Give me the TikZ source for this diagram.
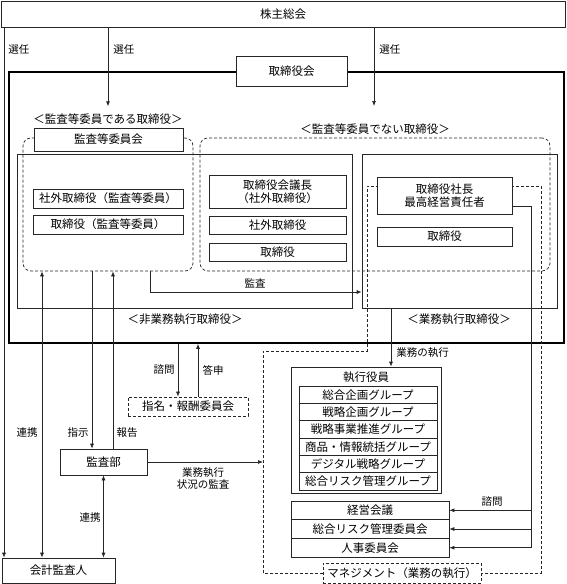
\documentclass[tikz,border=0pt]{standalone}
\usepackage{fontspec}
\setmainfont{Noto Sans CJK JP}
\usetikzlibrary{arrows.meta}

\begin{document}
\begin{tikzpicture}[x=1pt,y=-1pt,color=black!85,line width=0.7pt,
  >={Latex[length=5pt,width=4pt]},
  box/.style={draw,fill=white,text=black,inner sep=0pt,font=\fontsize{11.5}{13}\selectfont},
  dbox/.style={box,dash pattern=on 3pt off 2pt},
  lbl/.style={text=black,inner sep=1pt,font=\fontsize{10.5}{12.5}\selectfont}]
\useasboundingbox (0,0) rectangle (566,584);

\node[box,minimum width=564pt,minimum height=26pt] (v1) at (283,14) {株主総会};
\node[draw=black,line width=1.6pt,inner sep=0pt,minimum width=555pt,minimum height=271pt] (v5) at (286.5,207.5) {};
\node[box,minimum width=111pt,minimum height=30pt] (v6) at (291.5,71) {取締役会};
\node[box,fill=none,minimum width=335pt,minimum height=154pt] (v7) at (184.5,231) {};
\node[box,fill=none,minimum width=195pt,minimum height=154pt] (v8) at (459.5,231) {};
\node[dbox,fill=none,rounded corners=8pt,minimum width=170pt,minimum height=133pt] (v11) at (108,204.5) {};
\node[dbox,fill=none,rounded corners=8pt,minimum width=350pt,minimum height=133pt] (v12) at (375,204.5) {};
\draw[dash pattern=on 3pt off 2pt] (263,573) -- (263,351) -- (367,351) -- (367,186) -- (541,186) -- (541,573) -- cycle;

\node[lbl,font=\fontsize{11.5}{13}\selectfont] (v3) at (108,119) {＜監査等委員である取締役＞};
\node[lbl,font=\fontsize{11.5}{13}\selectfont] (v4) at (375,129) {＜監査等委員でない取締役＞};
\node[lbl,font=\fontsize{11.5}{13}\selectfont] (v9) at (185,319) {＜非業務執行取締役＞};
\node[lbl,font=\fontsize{11.5}{13}\selectfont] (v10) at (459,319) {＜業務執行取締役＞};

\node[box,minimum width=149pt,minimum height=23pt] (v13) at (108.5,139.5) {監査等委員会};
\node[box,minimum width=150pt,minimum height=19pt] (v14) at (108,198.5) {社外取締役（監査等委員）};
\node[box,minimum width=150pt,minimum height=19pt] (v15) at (108,224.5) {取締役（監査等委員）};
\node[box,align=center,minimum width=137pt,minimum height=33pt] (v16) at (277.5,191.5) {取締役会議長\\（社外取締役）};
\node[box,minimum width=137pt,minimum height=18pt] (v17) at (277.5,225) {社外取締役};
\node[box,minimum width=137pt,minimum height=18pt] (v18) at (277.5,252) {取締役};
\node[box,align=center,minimum width=135pt,minimum height=37pt] (v19) at (444.5,195.5) {取締役社長\\最高経営責任者};
\node[box,minimum width=135pt,minimum height=19pt] (v20) at (444.5,236.5) {取締役};

\node[dbox,minimum width=120pt,minimum height=19pt] (v22) at (188,406.5) {指名・報酬委員会};
\node[box,minimum width=87pt,minimum height=26pt] (v23) at (103.5,462) {監査部};
\node[box,minimum width=113pt,minimum height=25pt] (v24) at (58.5,570.5) {会計監査人};

\node[box,minimum width=150pt,minimum height=126pt] (v25) at (366,430) {};
\node[lbl,font=\fontsize{11.5}{13}\selectfont] (v26) at (366,377) {執行役員};
\node[box,minimum width=138pt,minimum height=17.33pt] (v27) at (368,394.7) {総合企画グループ};
\node[box,minimum width=138pt,minimum height=17.33pt] (v28) at (368,412) {戦略企画グループ};
\node[box,minimum width=138pt,minimum height=17.33pt] (v29) at (368,429.3) {戦略事業推進グループ};
\node[box,minimum width=138pt,minimum height=17.33pt] (v30) at (368,446.7) {商品・情報統括グループ};
\node[box,minimum width=138pt,minimum height=17.33pt] (v31) at (368,464) {デジタル戦略グループ};
\node[box,minimum width=138pt,minimum height=17.33pt] (v32) at (368,481.3) {総合リスク管理グループ};

\node[box,minimum width=158pt,minimum height=18.67pt] (v33) at (370,510.3) {経営会議};
\node[box,minimum width=158pt,minimum height=18.67pt] (v34) at (370,529) {総合リスク管理委員会};
\node[box,minimum width=158pt,minimum height=18.67pt] (v35) at (370,547.7) {人事委員会};
\node[dbox,minimum width=158pt,minimum height=20pt] (v36) at (402,573) {マネジメント（業務の執行）};

\node[lbl,anchor=west] (l1) at (7,50) {選任};
\node[lbl,anchor=west] (l2) at (112,50) {選任};
\node[lbl,anchor=west] (l3) at (378,50) {選任};
\node[lbl] (l4) at (255,283) {監査};
\node[lbl] (l5) at (164,370) {諮問};
\node[lbl] (l6) at (213,370) {答申};
\node[lbl] (l7) at (27,433) {連携};
\node[lbl] (l8) at (78,433) {指示};
\node[lbl] (l9) at (127,433) {報告};
\node[lbl] (l10) at (90,518) {連携};
\node[lbl,align=center] (l11) at (203,478.5) {業務執行\\状況の監査};
\node[lbl,anchor=west] (l12) at (395,353) {業務の執行};
\node[lbl] (l13) at (492,502) {諮問};

\coordinate (x1) at (4,0);
\coordinate (x2) at (42,0);
\coordinate (x3) at (92,0);
\coordinate (x4) at (113,0);
\coordinate (x5) at (178,0);
\coordinate (x6) at (198,0);
\coordinate (x7) at (391,0);
\coordinate (x8) at (531,0);
\coordinate (c1) at (374,106);
\coordinate (c2) at (150,292);
\coordinate (c3) at (263,462);

\draw[->] (v1.south -| x1) -- (v24.north -| x1);
\draw[->] (v1.south -| v3) -- ([yshift=6pt]v3.north);
\draw[->] (v1.south -| c1) -- (c1);
\draw[->] (v11.south -| c2) -- (c2) -- (c2 -| v8.west);
\draw[<->] (v11.south -| x2) -- (v24.north -| x2);
\draw[->] (v11.south -| x3) -- (v23.north -| x3);
\draw[->] (v23.north -| x4) -- (v11.south -| x4);
\draw[<->] (v23.south) -- (v23.south |- v24.north);
\draw[->] (v5.south -| x5) -- (v22.north -| x5);
\draw[->] (v22.north -| x6) -- (v5.south -| x6);
\draw[->] (v23.east) -- (c3);
\draw[->] (v8.south -| x7) -- (v25.north -| x7);
\draw ([yshift=-10.5pt]v19.east) -| (x8 |- v35.east);
\draw[->] (x8 |- v33.east) -- (v33.east);
\draw[->] (x8 |- v34.east) -- (v34.east);
\draw[->] (x8 |- v35.east) -- (v35.east);
\end{tikzpicture}
\end{document}
